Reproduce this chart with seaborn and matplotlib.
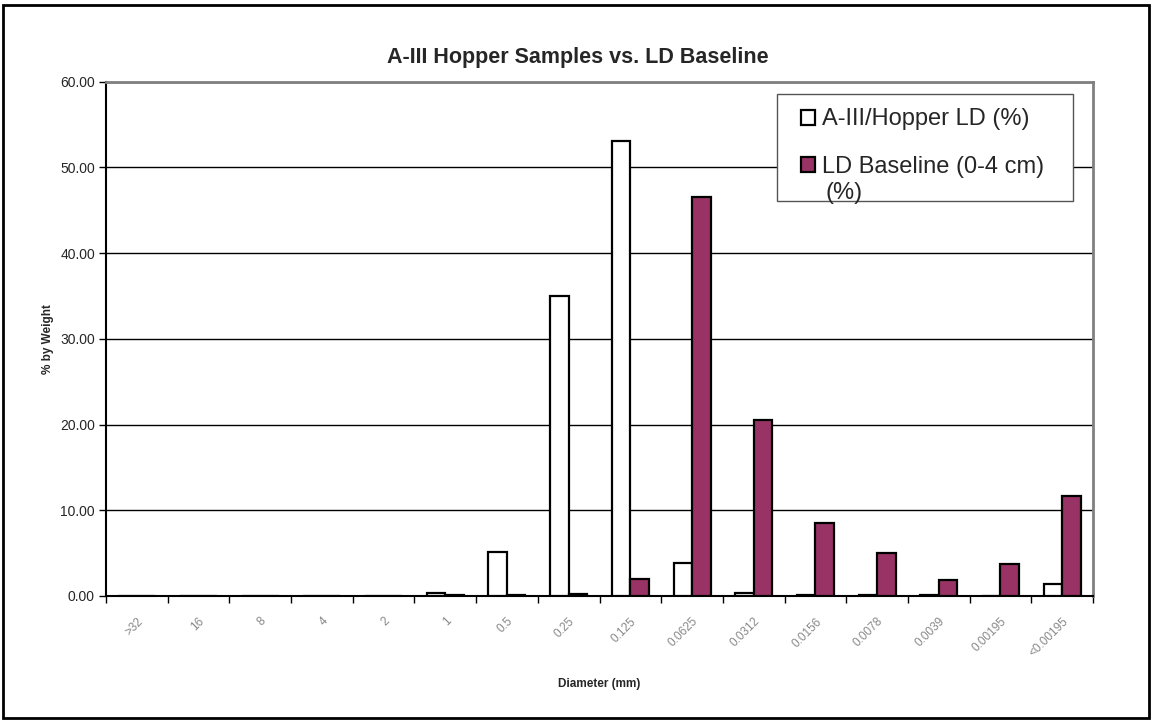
import matplotlib
matplotlib.use("Agg")
import pandas as pd
import matplotlib.pyplot as plt
import matplotlib.transforms as mtransforms
import seaborn as sns
from matplotlib.patches import Patch, Rectangle

# ===== DATA =====
SIZES = [">32", "16", "8", "4", "2", "1", "0.5", "0.25", "0.125", "0.0625",
         "0.0312", "0.0156", "0.0078", "0.0039", "0.00195", "<0.00195"]
HOPPER = [0.0, 0.0, 0.0, 0.0, 0.05, 0.4, 5.1, 35.0, 53.1, 3.9,
          0.4, 0.15, 0.1, 0.1, 0.05, 1.4]
BASELINE = [0.0, 0.0, 0.0, 0.0, 0.05, 0.1, 0.1, 0.2, 2.0, 46.6,
            20.5, 8.5, 5.0, 1.85, 3.7, 11.7]
SERIES = ["A-III/Hopper LD (%)", "LD Baseline (0-4 cm) (%)"]
COLORS = ["white", "#993366"]
# ================

sns.set_theme(style="white")
plt.rcParams["font.family"] = ["Liberation Sans", "DejaVu Sans"]

df = pd.DataFrame({
    "size": SIZES * 2,
    "value": HOPPER + BASELINE,
    "series": [SERIES[0]] * len(SIZES) + [SERIES[1]] * len(SIZES),
})

fig = plt.figure(figsize=(11.56, 7.24), dpi=100)
ax = fig.add_axes([0.0917, 0.1768, 0.8538, 0.7104])

sns.barplot(data=df, x="size", y="value", hue="series", order=SIZES,
            hue_order=SERIES, palette=COLORS, saturation=1, width=0.6,
            edgecolor="black", linewidth=1.6, ax=ax, legend=False, zorder=3)

ax.set_ylim(0, 60)
ax.set_xlim(-0.5, len(SIZES) - 0.5)
ax.set_yticks(range(0, 61, 10))
ax.set_yticklabels([f"{v:.2f}" for v in range(0, 61, 10)], fontsize=10)
ax.yaxis.grid(True, color="black", linewidth=1)
ax.set_axisbelow(True)

ax.set_xticks(range(len(SIZES)))
ax.set_xticklabels(SIZES, rotation=45, fontsize=8.5, color="#888888",
                   ha="right", rotation_mode="anchor")
shift = mtransforms.ScaledTranslation(-8 / 100, 0, fig.dpi_scale_trans)
for lbl in ax.get_xticklabels():
    lbl.set_transform(lbl.get_transform() + shift)
ax.set_xticks([i + 0.5 for i in range(-1, len(SIZES))], minor=True)
ax.tick_params(axis="x", which="major", length=0, pad=14)
ax.tick_params(axis="x", which="minor", length=5, width=1, color="black",
               direction="out", bottom=True)
ax.tick_params(axis="y", length=5, width=1, color="black", direction="out",
               left=True, pad=3)

for side in ["left", "bottom"]:
    ax.spines[side].set_color("black")
    ax.spines[side].set_linewidth(1.5)
for side in ["top", "right"]:
    ax.spines[side].set_color("#808080")
    ax.spines[side].set_linewidth(2)

ax.set_xlabel("Diameter (mm)", fontsize=8.5, fontweight="bold")
ax.xaxis.set_label_coords(0.5, -0.159)
ax.set_ylabel("% by Weight", fontsize=8.5, fontweight="bold")
ax.yaxis.set_label_coords(-0.053, 0.5)
fig.text(0.5, 0.921, "A-III Hopper Samples vs. LD Baseline", ha="center",
         va="center", fontsize=15.5, fontweight="bold")

# legend box (second label wraps and runs out of it, as in the original)
box = Rectangle((0.680, 0.768), 0.300, 0.208, transform=ax.transAxes,
                facecolor="white", edgecolor="#555555", linewidth=1, zorder=5)
ax.add_patch(box)
handles = [Patch(facecolor=c, edgecolor="black", linewidth=1.6) for c in COLORS]
legend_labels = [SERIES[0], SERIES[1].rsplit(" ", 1)[0]]
leg = ax.legend(handles, legend_labels, loc="upper left",
                bbox_to_anchor=(0.704, 0.948), frameon=False, fontsize=17,
                handlelength=0.6, handleheight=0.6, handletextpad=0.3,
                labelspacing=1.09, borderpad=0, borderaxespad=0)
leg.set_zorder(6)
ax.text(0.7285, 0.7836, SERIES[1].rsplit(" ", 1)[1], transform=ax.transAxes,
        fontsize=17, va="center", ha="left", zorder=7)

# outer frame
fig.patches.append(Rectangle((0.003, 0.008), 0.991, 0.985, transform=fig.transFigure,
                             fill=False, edgecolor="black", linewidth=2))

fig.savefig("out.png", dpi=100)
